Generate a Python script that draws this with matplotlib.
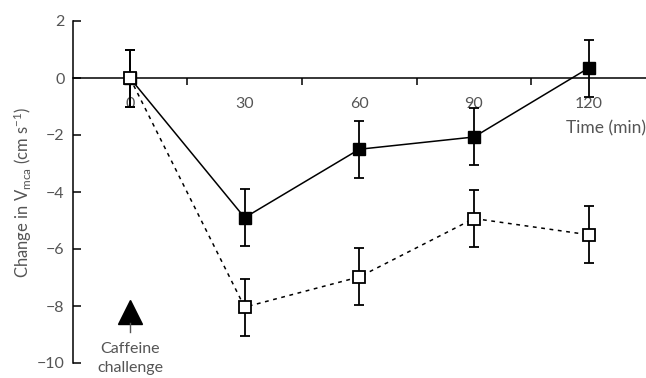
import matplotlib
matplotlib.use("Agg")
import matplotlib.pyplot as plt
from matplotlib.ticker import FixedLocator

plt.rcParams['font.family'] = ['Lato', 'DejaVu Sans']
plt.rcParams['mathtext.fontset'] = 'custom'
plt.rcParams['mathtext.rm'] = 'Lato'
plt.rcParams['mathtext.it'] = 'Lato:italic'

time = [0, 30, 60, 90, 120]
filled_vals = [0.0, -4.9, -2.5, -2.07, 0.35]
filled_err = [1.0, 1.0, 1.0, 1.0, 1.0]
open_vals = [0.0, -8.04, -6.98, -4.93, -5.5]
open_err = [1.0, 1.0, 1.0, 1.0, 1.0]
x_tick_labels = ['0', '30', '60', '90', '120']
y_ticks = [2, 0, -2, -4, -6, -8, -10]
caffeine_x = 0
caffeine_y = -8.2

grey = '#555555'
fs = 11.5
fig = plt.figure(figsize=(6.46, 3.78), dpi=100)
ax = fig.add_axes([73/646, 15/378, 573/646, 342/378])
ax.set_xlim(-14.9, 135)
ax.set_ylim(-10, 2)

ax.spines['top'].set_visible(False)
ax.spines['right'].set_visible(False)
ax.spines['bottom'].set_position(('data', 0))
for s in ['left', 'bottom']:
    ax.spines[s].set_linewidth(1.1)
    ax.spines[s].set_color('black')

ax.errorbar(time, filled_vals, yerr=filled_err, fmt='s-', color='black',
            markersize=8, linewidth=1.1, capsize=3.8, elinewidth=1.3,
            capthick=1.3, zorder=3)
ax.errorbar(time, open_vals, yerr=open_err, fmt='s', linestyle=(0, (2.5, 3)),
            color='black', markerfacecolor='white', markeredgecolor='black',
            markeredgewidth=1.3, markersize=8, linewidth=1.1, capsize=3.8,
            elinewidth=1.3, capthick=1.3, zorder=4)

ax.set_xticks(time)
ax.set_xticklabels(x_tick_labels)
ax.xaxis.set_minor_locator(FixedLocator([15, 45, 75, 105]))
ax.tick_params(axis='x', which='major', length=0, pad=14, labelsize=fs,
               labelcolor=grey)
ax.tick_params(axis='x', which='minor', length=5, width=1.1, direction='out')
ax.set_yticks(y_ticks)
ax.set_yticklabels(['2', '0', '\u22122', '\u22124', '\u22126', '\u22128', '\u221210'])
ax.tick_params(axis='y', direction='in', length=6, width=1.1, labelsize=fs,
               labelcolor=grey, pad=6)

ax.set_ylabel('Change in V$_{\\mathrm{mca}}$ (cm s$^{-1}$)', color=grey,
              fontsize=12, labelpad=2)

ax.text(135, -1.75, 'Time (min)', ha='right', va='center', color=grey,
        fontsize=12.5)

ax.plot([caffeine_x], [caffeine_y], marker='^', markersize=17, color='black',
        linestyle='none', clip_on=False)
ax.plot([caffeine_x, caffeine_x], [caffeine_y - 0.4, caffeine_y - 0.72],
        color=grey, linewidth=1.0)
ax.text(caffeine_x, caffeine_y - 1.08, 'Caffeine\nchallenge', ha='center',
        va='top', color=grey, fontsize=fs, linespacing=1.4)

fig.savefig('out.png', dpi=100)
